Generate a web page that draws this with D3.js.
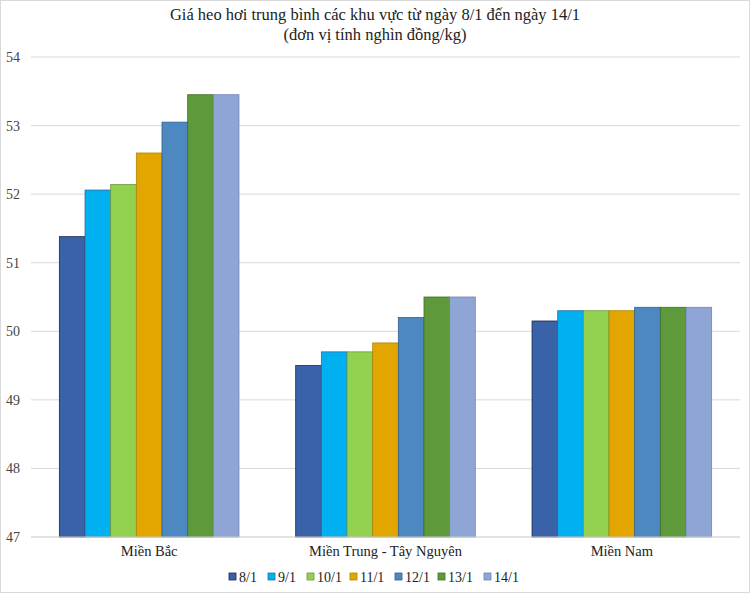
<!DOCTYPE html>
<html>
<head>
<meta charset="utf-8">
<script src="https://cdn.jsdelivr.net/npm/d3@7"></script>
<style>
  body { margin: 0; background: #fff; }
  svg text { font-family: "Liberation Serif", "DejaVu Serif", serif !important; }
</style>
</head>
<body>
<svg id="chart" width="750" height="593"></svg>
<script>
const regions = ["Miền Bắc", "Miền Trung - Tây Nguyên", "Miền Nam"];
const days = ["8/1", "9/1", "10/1", "11/1", "12/1", "13/1", "14/1"];
const colors = ["#3A62A8", "#00B0F0", "#92D050", "#E3A600", "#4E88C0", "#5E9A3C", "#8FA5D6"];
const strokes = ["#1b2a4a", "#2a6f9a", "#6f9a40", "#b08500", "#2f5f90", "#3f6f28", "#6f85b6"];

const bacValues = [51.38, 52.06, 52.14, 52.6, 53.05, 53.45, 53.45];
const trungValues = [49.5, 49.7, 49.7, 49.83, 50.2, 50.5, 50.5];
const namValues = [50.15, 50.3, 50.3, 50.3, 50.35, 50.35, 50.35];
const yTicks = [47, 48, 49, 50, 51, 52, 53, 54];

const values = [bacValues, trungValues, namValues];

const width = 750;
const height = 593;
const plotLeft = 31, plotRight = 740, plotTop = 57, plotBottom = 537;

const svg = d3.select("#chart");

// frame
svg.append("rect")
  .attr("x", 0.5).attr("y", 0.5)
  .attr("width", width - 1).attr("height", height - 1)
  .attr("fill", "none").attr("stroke", "#d9d9d9");

// title
svg.append("text")
  .attr("x", 375).attr("y", 20)
  .attr("text-anchor", "middle")
  .style("font-size", "16.5px").attr("fill", "#222")
  .text("Giá heo hơi trung bình các khu vực từ ngày 8/1 đến ngày 14/1");
svg.append("text")
  .attr("x", 375).attr("y", 40)
  .attr("text-anchor", "middle")
  .style("font-size", "16.5px").attr("fill", "#222")
  .text("(đơn vị tính nghìn đồng/kg)");

const y = d3.scaleLinear().domain([47, 54]).range([plotBottom, plotTop]);
const x0 = d3.scaleBand().domain(regions).range([plotLeft, plotRight]);
const x1 = d3.scaleBand().domain(days)
  .range([x0.bandwidth() * 0.12, x0.bandwidth() * 0.88]);

// gridlines
svg.append("g")
  .selectAll("line")
  .data(yTicks)
  .enter()
  .append("line")
  .attr("x1", plotLeft).attr("x2", plotRight)
  .attr("y1", d => y(d)).attr("y2", d => y(d))
  .attr("stroke", "#d9d9d9").attr("stroke-width", 1);

// y labels
const yAxis = d3.axisLeft(y).tickValues(yTicks).tickFormat(d3.format("d")).tickSize(0);
const yg = svg.append("g")
  .attr("transform", `translate(${plotLeft}, 0)`)
  .call(yAxis);
yg.select(".domain").remove();
yg.selectAll("text")
  .style("font-size", "14px").attr("fill", "#444")
  .attr("text-anchor", "start").attr("x", -25);

// bars
const groups = svg.append("g")
  .selectAll("g")
  .data(regions)
  .enter()
  .append("g")
  .attr("transform", d => `translate(${x0(d)}, 0)`);

groups.selectAll("rect")
  .data((d, i) => values[i].map((v, j) => ({ day: days[j], value: v, j })))
  .enter()
  .append("rect")
  .attr("x", d => x1(d.day))
  .attr("y", d => y(d.value))
  .attr("width", x1.bandwidth())
  .attr("height", d => y(47) - y(d.value))
  .attr("fill", d => colors[d.j])
  .attr("stroke", d => strokes[d.j])
  .attr("stroke-width", 0.8);

// baseline
svg.append("line")
  .attr("x1", plotLeft).attr("x2", plotRight)
  .attr("y1", plotBottom).attr("y2", plotBottom)
  .attr("stroke", "#d9d9d9");

// category labels
const xAxis = d3.axisBottom(x0).tickSize(0).tickPadding(9);
const xg = svg.append("g")
  .attr("transform", `translate(0, ${plotBottom})`)
  .call(xAxis);
xg.select(".domain").remove();
xg.selectAll("text")
  .style("font-size", "14.5px").attr("fill", "#222");

// legend
const legendX = [229, 268, 307, 350, 395, 438, 484];
const legend = svg.append("g").attr("transform", "translate(0, 582)");
const items = legend.selectAll("g")
  .data(days)
  .enter()
  .append("g")
  .attr("transform", (d, i) => `translate(${legendX[i]}, 0)`);
items.append("rect")
  .attr("x", 0).attr("y", -9)
  .attr("width", 7).attr("height", 7)
  .attr("fill", (d, i) => colors[i])
  .attr("stroke", (d, i) => strokes[i]).attr("stroke-width", 0.8);
items.append("text")
  .attr("x", 10).attr("y", 0)
  .style("font-size", "14px").attr("fill", "#222")
  .text(d => d);
</script>
</body>
</html>
